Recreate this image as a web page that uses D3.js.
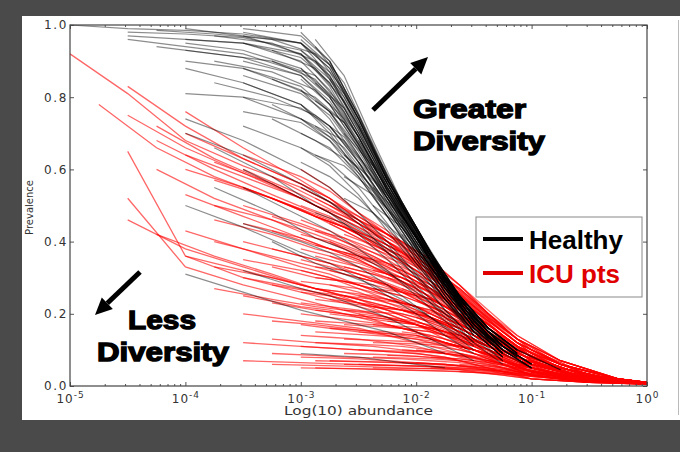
<!DOCTYPE html>
<html>
<head>
<meta charset="utf-8">
<script src="https://cdn.jsdelivr.net/npm/d3@7"></script>
<style>
  body { margin: 0; background: #4a4a4a; }
  svg { display: block; }
  .tick text { fill: #333; font-family: "DejaVu Sans", sans-serif; }
</style>
</head>
<body>
<div id="chart"></div>
<script>
// log10 abundance thresholds; the samples were read on two offset grids
const GRID_A = [-5, -4.5, -4, -3.5, -3, -2.75, -2.5, -2.25, -2, -1.75, -1.5, -1.25, -1, -0.5, 0];
const GRID_B = [-4.75, -4.25, -3.75, -3.25, -2.875, -2.625, -2.375, -2.125, -1.875, -1.625, -1.375, -1.125, -0.75, -0.25, 0];

// prevalence of each healthy sample at the GRID_A points (null = not reached)
const healthyA = [
  [1.0, 0.99, 0.985, 0.975, 0.95, 0.88, 0.74, 0.57, 0.44, 0.3, 0.19, 0.11, 0.06, null, null],
  [null, 0.98, 0.975, 0.965, 0.93, 0.86, 0.72, 0.56, 0.43, 0.29, 0.18, 0.1, 0.05, null, null],
  [null, null, 0.99, 0.97, 0.92, 0.83, 0.69, 0.54, 0.41, 0.28, 0.17, 0.1, null, null, null],
  [null, 0.96, 0.94, 0.92, 0.87, 0.8, 0.67, 0.53, 0.4, 0.27, 0.17, 0.09, null, null, null],
  [null, null, 0.96, 0.95, 0.91, 0.84, 0.71, 0.55, 0.42, 0.28, 0.17, 0.1, 0.05, null, null],
  [null, null, 0.93, 0.91, 0.86, 0.78, 0.66, 0.52, 0.39, 0.27, 0.16, 0.09, null, null, null],
  [null, null, 0.9, 0.88, 0.83, 0.76, 0.64, 0.51, 0.38, 0.26, 0.16, 0.09, null, null, null],
  [null, null, 0.81, 0.8, 0.77, 0.72, 0.62, 0.5, 0.38, 0.26, 0.16, null, null, null, null],
  [null, null, null, 0.76, 0.73, 0.68, 0.6, 0.49, 0.37, 0.25, 0.15, 0.08, null, null, null],
  [null, null, null, 0.99, 0.97, 0.9, 0.75, 0.58, 0.44, 0.3, 0.19, 0.11, 0.06, null, null],
  [null, null, null, 0.98, 0.95, 0.88, 0.74, 0.57, 0.43, 0.29, 0.18, 0.1, null, null, null],
  [null, null, null, 0.95, 0.92, 0.85, 0.72, 0.56, 0.42, 0.29, 0.18, 0.1, null, null, null],
  [null, null, null, null, 0.96, 0.89, 0.74, 0.57, 0.43, 0.29, 0.18, 0.1, 0.05, null, null],
  [null, null, null, null, 0.95, 0.86, 0.71, 0.55, 0.42, 0.28, 0.17, 0.1, null, null, null],
  [null, null, null, 0.9, 0.86, 0.79, 0.67, 0.53, 0.4, 0.27, 0.17, 0.09, null, null, null],
  [null, null, null, 0.86, 0.81, 0.75, 0.64, 0.51, 0.39, 0.26, 0.16, null, null, null, null],
  [null, null, 0.88, 0.84, 0.78, 0.71, 0.6, 0.48, 0.36, 0.25, 0.15, 0.08, null, null, null],
  [null, null, null, 0.84, 0.78, 0.7, 0.59, 0.47, 0.35, 0.24, 0.14, null, null, null, null],
  [null, null, null, 0.8, 0.74, 0.68, 0.58, 0.47, 0.35, 0.24, 0.15, 0.08, null, null, null],
  [null, null, null, null, 0.88, 0.81, 0.69, 0.54, 0.41, 0.28, 0.17, 0.1, null, null, null],
  [null, null, null, null, 0.92, 0.84, 0.7, 0.54, 0.41, 0.28, 0.17, 0.09, 0.05, null, null],
  [null, null, null, null, 0.85, 0.78, 0.66, 0.52, 0.39, 0.27, 0.16, 0.09, null, null, null],
  [null, null, null, null, 0.82, 0.76, 0.65, 0.52, 0.39, 0.27, 0.17, null, null, null, null],
  [null, null, null, null, 0.78, 0.72, 0.62, 0.5, 0.38, 0.26, 0.16, 0.09, null, null, null],
  [null, null, null, null, 0.74, 0.69, 0.6, 0.49, 0.37, 0.25, 0.15, null, null, null, null],
  [null, null, null, null, 0.7, 0.66, 0.58, 0.47, 0.36, 0.25, 0.15, 0.08, null, null, null],
  [null, null, null, null, 0.66, 0.62, 0.55, 0.45, 0.34, 0.24, 0.14, null, null, null, null],
  [null, null, null, 0.72, 0.66, 0.61, 0.53, 0.43, 0.33, 0.23, 0.14, 0.07, null, null, null],
  [null, null, 0.74, 0.68, 0.6, 0.55, 0.48, 0.4, 0.31, 0.21, 0.13, null, null, null, null],
  [null, null, 0.7, 0.64, 0.56, 0.51, 0.45, 0.37, 0.28, 0.2, 0.12, 0.06, null, null, null],
  [null, null, null, 0.6, 0.52, 0.48, 0.42, 0.35, 0.27, 0.19, 0.12, null, null, null, null],
  [null, null, 0.31, 0.26, 0.21, 0.19, 0.17, 0.15, 0.12, 0.09, null, null, null, null, null],
  [null, null, null, 0.32, 0.27, 0.25, 0.22, 0.19, 0.15, 0.11, 0.07, null, null, null, null],
  [null, null, null, 0.45, 0.4, 0.37, 0.33, 0.28, 0.22, 0.16, 0.1, null, null, null, null],
  [null, null, null, null, 0.55, 0.51, 0.46, 0.39, 0.3, 0.21, 0.13, 0.07, null, null, null],
  [null, null, null, null, 0.93, 0.87, 0.73, 0.57, 0.44, 0.3, 0.19, 0.11, 0.06, null, null],
  [null, null, null, null, null, 0.9, 0.75, 0.58, 0.44, 0.3, 0.19, 0.11, null, null, null],
  [null, null, null, null, null, 0.85, 0.72, 0.56, 0.43, 0.29, 0.18, 0.1, null, null, null],
  [null, null, null, null, null, 0.8, 0.69, 0.55, 0.42, 0.29, 0.18, 0.1, 0.05, null, null],
  [null, null, null, null, null, 0.76, 0.66, 0.53, 0.41, 0.28, 0.17, 0.1, null, null, null],
  [null, null, null, null, null, 0.72, 0.63, 0.52, 0.4, 0.28, 0.17, null, null, null, null],
  [null, null, null, null, 0.62, 0.58, 0.52, 0.44, 0.34, 0.24, 0.15, 0.08, null, null, null],
  [null, null, null, 0.97, 0.95, 0.89, 0.74, 0.58, 0.44, 0.3, 0.19, 0.11, 0.06, null, null],
  [null, null, null, null, 0.98, 0.9, 0.75, 0.57, 0.43, 0.3, 0.19, 0.11, null, null, null],
  [null, 0.97, 0.96, 0.95, 0.9, 0.82, 0.69, 0.54, 0.41, 0.28, 0.17, 0.1, null, null, null],
  [null, null, 0.95, 0.93, 0.88, 0.8, 0.68, 0.54, 0.41, 0.28, 0.17, 0.1, 0.05, null, null],
  [null, null, null, 0.88, 0.82, 0.74, 0.62, 0.49, 0.37, 0.26, 0.16, 0.09, null, null, null],
  [null, null, null, null, null, null, 0.72, 0.57, 0.44, 0.31, 0.19, 0.11, 0.06, null, null],
  [null, null, null, null, null, null, 0.68, 0.56, 0.43, 0.3, 0.19, 0.11, null, null, null],
  [null, null, null, null, null, null, 0.62, 0.53, 0.42, 0.3, 0.19, 0.11, 0.06, null, null],
  [null, null, null, 0.55, 0.47, 0.43, 0.38, 0.32, 0.25, 0.18, 0.11, null, null, null, null],
  [null, null, 0.5, 0.44, 0.37, 0.34, 0.3, 0.25, 0.2, 0.14, 0.09, null, null, null, null],
  [null, null, null, null, 0.09, 0.085, 0.08, 0.07, 0.06, 0.05, null, null, null, null, null]
];

// prevalence of further healthy samples at the GRID_B points
const healthyB = [
  [null, 0.985, 0.975, 0.96, 0.92, 0.82, 0.66, 0.51, 0.37, 0.25, 0.16, 0.1, null, null, null],
  [null, null, 0.97, 0.95, 0.9, 0.8, 0.65, 0.5, 0.36, 0.24, 0.15, 0.09, null, null, null],
  [null, 0.94, 0.92, 0.9, 0.86, 0.77, 0.63, 0.49, 0.36, 0.24, 0.15, null, null, null, null],
  [null, null, 0.9, 0.87, 0.82, 0.74, 0.61, 0.48, 0.35, 0.23, 0.14, 0.08, null, null, null],
  [null, null, null, 0.93, 0.88, 0.79, 0.64, 0.5, 0.37, 0.25, 0.15, 0.09, null, null, null],
  [null, null, null, 0.9, 0.85, 0.76, 0.62, 0.48, 0.35, 0.24, 0.15, null, null, null, null],
  [null, null, null, 0.85, 0.8, 0.73, 0.6, 0.47, 0.35, 0.23, 0.14, 0.08, null, null, null],
  [null, null, 0.84, 0.8, 0.75, 0.69, 0.58, 0.46, 0.34, 0.23, 0.14, null, null, null, null],
  [null, null, null, 0.78, 0.72, 0.66, 0.56, 0.45, 0.33, 0.22, 0.14, 0.08, null, null, null],
  [null, null, null, 0.74, 0.68, 0.63, 0.55, 0.44, 0.33, 0.22, 0.13, null, null, null, null],
  [null, null, null, null, 0.96, 0.86, 0.68, 0.51, 0.37, 0.25, 0.16, 0.1, null, null, null],
  [null, null, null, null, 0.94, 0.84, 0.67, 0.5, 0.37, 0.25, 0.16, 0.09, null, null, null],
  [null, null, null, null, 0.9, 0.81, 0.65, 0.5, 0.36, 0.24, 0.15, 0.09, null, null, null],
  [null, null, null, null, 0.84, 0.77, 0.63, 0.49, 0.36, 0.24, 0.15, null, null, null, null],
  [null, null, null, null, 0.79, 0.73, 0.61, 0.48, 0.35, 0.24, 0.15, 0.09, null, null, null],
  [null, null, null, null, 0.72, 0.68, 0.59, 0.47, 0.35, 0.24, 0.15, null, null, null, null],
  [null, null, null, null, 0.64, 0.61, 0.54, 0.44, 0.33, 0.23, 0.14, 0.08, null, null, null],
  [null, null, null, null, null, 0.7, 0.61, 0.49, 0.37, 0.25, 0.16, 0.1, null, null, null],
  [null, null, null, null, null, 0.64, 0.57, 0.47, 0.36, 0.25, 0.16, null, null, null, null],
  [null, null, null, null, null, 0.58, 0.53, 0.45, 0.35, 0.24, 0.15, 0.09, null, null, null],
  [null, null, 0.66, 0.58, 0.5, 0.46, 0.41, 0.35, 0.28, 0.2, 0.13, null, null, null, null],
  [null, null, 0.55, 0.48, 0.41, 0.38, 0.34, 0.29, 0.23, 0.17, null, null, null, null, null],
  [null, null, null, 0.4, 0.34, 0.31, 0.28, 0.24, 0.19, 0.14, null, null, null, null, null],
  [null, null, null, null, 0.48, 0.45, 0.4, 0.34, 0.27, 0.19, 0.12, null, null, null, null],
  [null, null, null, null, null, 0.52, 0.48, 0.41, 0.33, 0.23, 0.15, 0.09, null, null, null],
  [null, null, null, null, null, null, 0.55, 0.47, 0.36, 0.25, 0.16, 0.1, 0.045, null, null],
  [null, null, null, null, null, null, 0.5, 0.44, 0.35, 0.25, 0.16, 0.1, null, null, null],
  [null, null, null, null, null, null, null, 0.46, 0.36, 0.25, 0.16, 0.1, 0.045, null, null],
  [null, null, null, null, null, null, null, 0.42, 0.34, 0.24, 0.16, 0.1, null, null, null],
  [null, null, null, null, null, null, null, null, 0.33, 0.24, 0.16, 0.1, null, null, null]
];

// prevalence of each ICU patient sample at the GRID_A points
const icuA = [
  [0.92, 0.81, 0.68, 0.61, 0.55, 0.51, 0.47, 0.42, 0.37, 0.3, 0.23, 0.16, 0.1, 0.03, 0.01],
  [null, 0.83, 0.72, 0.63, 0.56, 0.52, 0.46, 0.41, 0.36, 0.29, 0.22, 0.15, 0.09, 0.03, 0.01],
  [null, null, 0.76, 0.66, 0.57, 0.52, 0.46, 0.4, 0.34, 0.27, 0.2, 0.14, 0.08, 0.025, 0.01],
  [null, 0.65, 0.36, 0.3, 0.26, 0.24, 0.22, 0.2, 0.17, 0.14, 0.1, 0.07, 0.04, 0.01, null],
  [null, 0.52, 0.33, 0.28, 0.24, 0.22, 0.2, 0.17, 0.15, 0.12, 0.09, 0.06, 0.03, 0.01, null],
  [null, 0.46, 0.38, 0.33, 0.28, 0.26, 0.23, 0.2, 0.17, 0.13, 0.1, 0.06, 0.03, 0.01, null],
  [null, null, 0.53, 0.47, 0.41, 0.38, 0.35, 0.31, 0.27, 0.22, 0.16, 0.11, 0.06, 0.02, 0.005],
  [null, null, 0.64, 0.58, 0.52, 0.48, 0.44, 0.39, 0.34, 0.27, 0.2, 0.14, 0.08, 0.025, 0.01],
  [null, null, 0.6, 0.55, 0.49, 0.45, 0.41, 0.36, 0.31, 0.25, 0.18, 0.12, 0.07, 0.02, 0.005],
  [null, null, 0.43, 0.38, 0.33, 0.31, 0.28, 0.25, 0.21, 0.17, 0.13, 0.09, 0.05, 0.015, 0.005],
  [null, null, 0.36, 0.32, 0.28, 0.26, 0.24, 0.21, 0.18, 0.15, 0.11, 0.07, 0.04, 0.01, null],
  [null, null, null, 0.6, 0.53, 0.49, 0.45, 0.4, 0.35, 0.28, 0.21, 0.14, 0.08, 0.025, 0.01],
  [null, null, null, 0.55, 0.49, 0.46, 0.42, 0.37, 0.32, 0.26, 0.19, 0.13, 0.07, 0.02, 0.01],
  [null, null, null, 0.5, 0.45, 0.42, 0.38, 0.34, 0.29, 0.23, 0.17, 0.12, 0.07, 0.02, 0.005],
  [null, null, null, 0.45, 0.41, 0.38, 0.35, 0.31, 0.27, 0.22, 0.16, 0.11, 0.06, 0.02, 0.005],
  [null, null, null, 0.4, 0.36, 0.34, 0.31, 0.28, 0.24, 0.19, 0.14, 0.1, 0.05, 0.015, 0.005],
  [null, null, null, 0.35, 0.32, 0.3, 0.27, 0.24, 0.21, 0.17, 0.13, 0.09, 0.05, 0.015, 0.005],
  [null, null, null, 0.3, 0.27, 0.25, 0.23, 0.21, 0.18, 0.15, 0.11, 0.07, 0.04, 0.01, null],
  [null, null, null, 0.25, 0.22, 0.21, 0.19, 0.17, 0.15, 0.12, 0.09, 0.06, 0.03, 0.01, null],
  [null, null, null, 0.2, 0.18, 0.17, 0.16, 0.14, 0.12, 0.1, 0.08, 0.05, 0.03, 0.01, null],
  [null, null, null, null, 0.6, 0.55, 0.48, 0.42, 0.36, 0.29, 0.22, 0.15, 0.09, 0.03, 0.01],
  [null, null, null, null, 0.55, 0.51, 0.45, 0.4, 0.34, 0.27, 0.2, 0.14, 0.08, 0.025, 0.01],
  [null, null, null, null, 0.5, 0.47, 0.42, 0.37, 0.32, 0.26, 0.19, 0.13, 0.08, 0.025, 0.01],
  [null, null, null, null, 0.46, 0.43, 0.39, 0.35, 0.3, 0.24, 0.18, 0.12, 0.07, 0.02, 0.01],
  [null, null, null, null, 0.42, 0.4, 0.36, 0.32, 0.28, 0.23, 0.17, 0.11, 0.06, 0.02, 0.005],
  [null, null, null, null, 0.38, 0.36, 0.33, 0.3, 0.26, 0.21, 0.16, 0.11, 0.06, 0.02, 0.005],
  [null, null, null, null, 0.35, 0.33, 0.31, 0.28, 0.24, 0.2, 0.15, 0.1, 0.06, 0.02, 0.005],
  [null, null, null, null, 0.32, 0.3, 0.28, 0.25, 0.22, 0.18, 0.14, 0.09, 0.05, 0.015, 0.005],
  [null, null, null, null, 0.29, 0.28, 0.26, 0.23, 0.2, 0.17, 0.13, 0.09, 0.05, 0.015, 0.005],
  [null, null, null, null, 0.26, 0.25, 0.23, 0.21, 0.19, 0.16, 0.12, 0.08, 0.05, 0.015, 0.005],
  [null, null, null, null, 0.23, 0.22, 0.21, 0.19, 0.17, 0.14, 0.11, 0.07, 0.04, 0.01, 0.005],
  [null, null, null, null, 0.2, 0.19, 0.18, 0.17, 0.15, 0.13, 0.1, 0.07, 0.04, 0.01, null],
  [null, null, null, null, 0.17, 0.16, 0.15, 0.14, 0.13, 0.11, 0.09, 0.06, 0.03, 0.01, null],
  [null, null, null, null, 0.14, 0.135, 0.13, 0.12, 0.11, 0.09, 0.07, 0.05, 0.03, 0.01, null],
  [null, null, null, null, 0.11, 0.105, 0.1, 0.095, 0.09, 0.08, 0.06, 0.04, 0.02, 0.01, null],
  [null, null, null, null, 0.08, 0.078, 0.075, 0.07, 0.065, 0.06, 0.05, 0.035, 0.02, 0.01, null],
  [null, null, null, null, null, 0.5, 0.45, 0.4, 0.35, 0.28, 0.21, 0.14, 0.08, 0.025, 0.01],
  [null, null, null, null, null, 0.45, 0.41, 0.37, 0.32, 0.26, 0.19, 0.13, 0.08, 0.025, 0.01],
  [null, null, null, null, null, 0.4, 0.37, 0.34, 0.3, 0.24, 0.18, 0.12, 0.07, 0.02, 0.01],
  [null, null, null, null, null, 0.36, 0.34, 0.31, 0.27, 0.22, 0.17, 0.11, 0.06, 0.02, 0.01],
  [null, null, null, null, null, 0.32, 0.3, 0.28, 0.25, 0.2, 0.15, 0.1, 0.06, 0.02, 0.005],
  [null, null, null, null, null, 0.28, 0.27, 0.25, 0.22, 0.18, 0.14, 0.09, 0.05, 0.015, 0.005],
  [null, null, null, null, null, 0.24, 0.23, 0.22, 0.2, 0.17, 0.13, 0.09, 0.05, 0.015, 0.005],
  [null, null, null, null, null, 0.2, 0.19, 0.18, 0.17, 0.14, 0.11, 0.08, 0.04, 0.01, 0.005],
  [null, null, null, null, null, 0.16, 0.155, 0.15, 0.14, 0.12, 0.1, 0.07, 0.04, 0.01, 0.005],
  [null, null, null, null, null, null, 0.36, 0.33, 0.29, 0.24, 0.18, 0.12, 0.07, 0.02, 0.01],
  [null, null, null, null, null, null, 0.3, 0.28, 0.25, 0.21, 0.16, 0.11, 0.06, 0.02, 0.01],
  [null, null, null, null, null, null, 0.25, 0.24, 0.22, 0.18, 0.14, 0.1, 0.06, 0.02, 0.005],
  [null, null, null, null, null, null, 0.2, 0.19, 0.18, 0.15, 0.12, 0.08, 0.05, 0.015, 0.005],
  [null, null, null, null, null, null, 0.15, 0.145, 0.14, 0.12, 0.1, 0.07, 0.04, 0.015, 0.005],
  [null, null, null, null, null, null, 0.1, 0.098, 0.095, 0.09, 0.08, 0.06, 0.04, 0.01, 0.005],
  [null, null, null, null, null, null, null, 0.3, 0.27, 0.22, 0.17, 0.12, 0.07, 0.02, 0.01],
  [null, null, null, null, null, null, null, 0.24, 0.22, 0.19, 0.15, 0.1, 0.06, 0.02, 0.01],
  [null, null, null, null, null, null, null, 0.18, 0.17, 0.15, 0.12, 0.08, 0.05, 0.015, 0.005],
  [null, null, null, null, null, null, null, null, 0.24, 0.2, 0.15, 0.1, 0.06, 0.02, 0.01],
  [null, null, null, null, null, null, null, null, 0.19, 0.16, 0.13, 0.09, 0.05, 0.02, 0.01],
  [null, null, null, null, null, null, null, null, 0.14, 0.12, 0.1, 0.07, 0.04, 0.015, 0.005],
  [null, null, null, null, null, null, null, null, null, 0.17, 0.13, 0.09, 0.05, 0.02, 0.01],
  [null, null, null, null, null, null, null, null, null, 0.12, 0.1, 0.07, 0.04, 0.015, 0.005],
  [null, null, null, null, null, null, null, null, null, null, 0.14, 0.1, 0.06, 0.02, 0.01],
  [null, null, null, null, null, null, null, null, null, null, 0.09, 0.07, 0.04, 0.015, 0.005],
  [null, null, null, null, null, null, null, null, null, null, null, 0.07, 0.05, 0.02, 0.01],
  [null, null, 0.7, 0.63, 0.56, 0.52, 0.47, 0.42, 0.36, 0.29, 0.22, 0.15, 0.09, 0.03, 0.01],
  [null, null, null, 0.64, 0.58, 0.54, 0.48, 0.43, 0.37, 0.3, 0.23, 0.16, 0.1, 0.03, 0.01],
  [null, 0.75, 0.66, 0.59, 0.52, 0.48, 0.43, 0.38, 0.33, 0.27, 0.2, 0.14, 0.08, 0.025, 0.01],
  [null, null, null, 0.12, 0.11, 0.105, 0.1, 0.095, 0.09, 0.08, 0.06, 0.04, 0.02, 0.01, null],
  [null, null, null, 0.07, 0.065, 0.062, 0.06, 0.058, 0.055, 0.05, 0.04, 0.03, 0.02, 0.01, null],
  [null, null, null, null, 0.05, 0.049, 0.048, 0.046, 0.044, 0.042, 0.038, 0.03, 0.02, 0.01, 0.005],
  [null, null, null, null, null, 0.07, 0.068, 0.066, 0.063, 0.06, 0.052, 0.04, 0.028, 0.01, 0.005],
  [null, null, null, null, null, null, 0.06, 0.058, 0.056, 0.053, 0.048, 0.04, 0.026, 0.012, 0.005],
  [null, null, null, null, null, null, null, 0.085, 0.082, 0.075, 0.065, 0.05, 0.032, 0.012, 0.005],
  [null, null, null, null, null, null, null, null, 0.1, 0.09, 0.075, 0.058, 0.038, 0.015, 0.008],
  [null, null, null, null, null, null, null, null, 0.065, 0.06, 0.052, 0.042, 0.03, 0.012, 0.005]
];

// prevalence of further ICU samples at the GRID_B points
const icuB = [
  [0.78, 0.66, 0.58, 0.52, 0.47, 0.44, 0.4, 0.36, 0.31, 0.25, 0.18, 0.12, 0.06, 0.015, 0.01],
  [null, 0.72, 0.63, 0.56, 0.5, 0.46, 0.42, 0.38, 0.33, 0.27, 0.2, 0.13, 0.07, 0.02, 0.01],
  [null, 0.68, 0.6, 0.53, 0.48, 0.45, 0.41, 0.37, 0.32, 0.26, 0.19, 0.13, 0.06, 0.02, 0.01],
  [null, 0.6, 0.52, 0.46, 0.41, 0.38, 0.35, 0.31, 0.27, 0.22, 0.16, 0.11, 0.05, 0.015, 0.005],
  [null, 0.42, 0.36, 0.31, 0.27, 0.25, 0.23, 0.21, 0.18, 0.15, 0.11, 0.07, 0.04, 0.01, null],
  [null, null, 0.62, 0.56, 0.5, 0.47, 0.43, 0.39, 0.34, 0.28, 0.2, 0.14, 0.07, 0.02, 0.01],
  [null, null, 0.57, 0.52, 0.47, 0.44, 0.4, 0.36, 0.31, 0.25, 0.18, 0.12, 0.06, 0.02, 0.01],
  [null, null, 0.5, 0.46, 0.42, 0.39, 0.36, 0.32, 0.28, 0.23, 0.17, 0.11, 0.05, 0.015, 0.005],
  [null, null, 0.46, 0.42, 0.38, 0.36, 0.33, 0.3, 0.26, 0.21, 0.16, 0.1, 0.05, 0.015, 0.005],
  [null, null, 0.4, 0.36, 0.33, 0.31, 0.29, 0.26, 0.23, 0.19, 0.14, 0.09, 0.05, 0.015, 0.005],
  [null, null, 0.33, 0.3, 0.27, 0.26, 0.24, 0.22, 0.19, 0.16, 0.12, 0.08, 0.04, 0.01, 0.005],
  [null, null, 0.27, 0.24, 0.22, 0.21, 0.2, 0.18, 0.16, 0.13, 0.1, 0.07, 0.03, 0.01, null],
  [null, null, null, 0.58, 0.52, 0.48, 0.44, 0.4, 0.35, 0.28, 0.2, 0.13, 0.07, 0.02, 0.01],
  [null, null, null, 0.52, 0.47, 0.44, 0.41, 0.37, 0.32, 0.26, 0.19, 0.13, 0.06, 0.02, 0.01],
  [null, null, null, 0.47, 0.43, 0.4, 0.37, 0.34, 0.3, 0.24, 0.18, 0.12, 0.06, 0.02, 0.01],
  [null, null, null, 0.43, 0.39, 0.37, 0.34, 0.31, 0.27, 0.22, 0.16, 0.11, 0.05, 0.015, 0.005],
  [null, null, null, 0.38, 0.35, 0.33, 0.31, 0.28, 0.25, 0.2, 0.15, 0.1, 0.05, 0.015, 0.005],
  [null, null, null, 0.33, 0.3, 0.29, 0.27, 0.25, 0.22, 0.18, 0.14, 0.09, 0.04, 0.01, 0.005],
  [null, null, null, 0.28, 0.26, 0.25, 0.23, 0.21, 0.19, 0.16, 0.12, 0.08, 0.04, 0.01, 0.005],
  [null, null, null, 0.23, 0.21, 0.2, 0.19, 0.18, 0.16, 0.14, 0.11, 0.07, 0.04, 0.01, 0.005],
  [null, null, null, 0.18, 0.17, 0.16, 0.15, 0.14, 0.13, 0.11, 0.09, 0.06, 0.03, 0.01, null],
  [null, null, null, 0.13, 0.12, 0.115, 0.11, 0.1, 0.095, 0.085, 0.07, 0.05, 0.03, 0.01, null],
  [null, null, null, null, 0.52, 0.48, 0.44, 0.4, 0.35, 0.28, 0.21, 0.14, 0.07, 0.02, 0.01],
  [null, null, null, null, 0.47, 0.44, 0.41, 0.37, 0.33, 0.27, 0.2, 0.13, 0.07, 0.02, 0.01],
  [null, null, null, null, 0.43, 0.41, 0.38, 0.35, 0.31, 0.25, 0.19, 0.12, 0.06, 0.02, 0.01],
  [null, null, null, null, 0.39, 0.37, 0.35, 0.32, 0.28, 0.23, 0.17, 0.11, 0.06, 0.02, 0.01],
  [null, null, null, null, 0.36, 0.34, 0.32, 0.3, 0.26, 0.22, 0.16, 0.11, 0.05, 0.015, 0.005],
  [null, null, null, null, 0.33, 0.32, 0.3, 0.27, 0.24, 0.2, 0.15, 0.1, 0.05, 0.015, 0.005],
  [null, null, null, null, 0.3, 0.29, 0.27, 0.25, 0.22, 0.19, 0.14, 0.09, 0.05, 0.015, 0.005],
  [null, null, null, null, 0.27, 0.26, 0.25, 0.23, 0.21, 0.17, 0.13, 0.09, 0.04, 0.01, 0.005],
  [null, null, null, null, 0.24, 0.23, 0.22, 0.21, 0.19, 0.16, 0.12, 0.08, 0.04, 0.01, 0.005],
  [null, null, null, null, 0.21, 0.2, 0.19, 0.18, 0.17, 0.14, 0.11, 0.07, 0.04, 0.01, 0.005],
  [null, null, null, null, 0.18, 0.175, 0.17, 0.16, 0.15, 0.13, 0.1, 0.07, 0.03, 0.01, 0.005],
  [null, null, null, null, 0.15, 0.145, 0.14, 0.135, 0.125, 0.11, 0.09, 0.06, 0.03, 0.01, 0.005],
  [null, null, null, null, 0.12, 0.117, 0.114, 0.11, 0.1, 0.09, 0.07, 0.05, 0.03, 0.01, null],
  [null, null, null, null, null, 0.42, 0.39, 0.36, 0.32, 0.27, 0.2, 0.13, 0.07, 0.02, 0.01],
  [null, null, null, null, null, 0.37, 0.35, 0.33, 0.29, 0.24, 0.18, 0.12, 0.06, 0.02, 0.01],
  [null, null, null, null, null, 0.33, 0.31, 0.29, 0.26, 0.22, 0.17, 0.11, 0.06, 0.02, 0.01],
  [null, null, null, null, null, 0.29, 0.28, 0.26, 0.24, 0.2, 0.15, 0.1, 0.05, 0.015, 0.005],
  [null, null, null, null, null, 0.25, 0.24, 0.23, 0.21, 0.18, 0.14, 0.09, 0.05, 0.015, 0.005],
  [null, null, null, null, null, 0.21, 0.205, 0.2, 0.18, 0.16, 0.12, 0.08, 0.04, 0.01, 0.005],
  [null, null, null, null, null, 0.17, 0.165, 0.16, 0.15, 0.13, 0.1, 0.07, 0.04, 0.01, 0.005],
  [null, null, null, null, null, 0.13, 0.127, 0.124, 0.12, 0.11, 0.09, 0.06, 0.03, 0.01, 0.005],
  [null, null, null, null, null, null, 0.32, 0.3, 0.27, 0.23, 0.17, 0.11, 0.06, 0.02, 0.01],
  [null, null, null, null, null, null, 0.27, 0.26, 0.24, 0.2, 0.15, 0.1, 0.05, 0.015, 0.01],
  [null, null, null, null, null, null, 0.22, 0.21, 0.2, 0.17, 0.13, 0.09, 0.05, 0.015, 0.005],
  [null, null, null, null, null, null, 0.17, 0.165, 0.16, 0.14, 0.11, 0.08, 0.04, 0.01, 0.005],
  [null, null, null, null, null, null, 0.12, 0.118, 0.115, 0.11, 0.09, 0.06, 0.03, 0.01, 0.005],
  [null, null, null, null, null, null, null, 0.27, 0.24, 0.2, 0.15, 0.1, 0.05, 0.015, 0.01],
  [null, null, null, null, null, null, null, 0.21, 0.19, 0.16, 0.12, 0.08, 0.04, 0.015, 0.005],
  [null, null, null, null, null, null, null, 0.15, 0.14, 0.12, 0.1, 0.07, 0.04, 0.01, 0.005],
  [null, null, null, null, null, null, null, null, 0.21, 0.17, 0.13, 0.09, 0.05, 0.015, 0.01],
  [null, null, null, null, null, null, null, null, 0.16, 0.14, 0.11, 0.08, 0.04, 0.015, 0.005],
  [null, null, null, null, null, null, null, null, 0.11, 0.1, 0.08, 0.06, 0.03, 0.01, 0.005],
  [null, null, null, null, null, null, null, null, null, 0.14, 0.11, 0.08, 0.04, 0.015, 0.01],
  [null, null, null, null, null, null, null, null, null, 0.09, 0.075, 0.06, 0.03, 0.01, 0.005],
  [null, null, null, null, null, null, null, null, null, null, 0.12, 0.08, 0.045, 0.015, 0.01],
  [null, null, null, null, null, null, null, null, null, null, 0.07, 0.055, 0.035, 0.01, 0.005],
  [null, null, null, null, null, null, null, null, null, null, null, 0.06, 0.04, 0.015, 0.01],
  [null, null, null, 0.09, 0.085, 0.08, 0.078, 0.075, 0.07, 0.065, 0.055, 0.04, 0.025, 0.01, 0.005],
  [null, null, null, 0.06, 0.057, 0.055, 0.053, 0.05, 0.048, 0.045, 0.04, 0.03, 0.02, 0.01, null],
  [null, null, null, null, 0.07, 0.068, 0.066, 0.064, 0.06, 0.055, 0.05, 0.04, 0.025, 0.01, 0.005],
  [null, null, null, null, 0.05, 0.048, 0.046, 0.044, 0.042, 0.04, 0.035, 0.03, 0.02, 0.01, 0.005],
  [null, null, null, null, null, 0.09, 0.088, 0.085, 0.08, 0.075, 0.065, 0.05, 0.03, 0.01, 0.005],
  [null, null, null, null, null, 0.06, 0.058, 0.056, 0.054, 0.05, 0.045, 0.035, 0.02, 0.01, 0.005],
  [null, null, null, null, null, null, 0.08, 0.078, 0.075, 0.07, 0.06, 0.045, 0.03, 0.01, 0.005],
  [null, null, null, null, null, null, 0.05, 0.049, 0.048, 0.046, 0.042, 0.035, 0.025, 0.01, 0.005],
  [null, null, null, null, null, null, null, 0.1, 0.095, 0.085, 0.07, 0.055, 0.035, 0.015, 0.005],
  [null, null, null, null, null, null, null, 0.065, 0.062, 0.058, 0.05, 0.04, 0.025, 0.01, 0.005],
  [null, null, null, null, null, null, null, null, 0.08, 0.075, 0.065, 0.05, 0.03, 0.015, 0.005],
  [null, null, null, null, null, null, null, null, 0.05, 0.048, 0.044, 0.038, 0.025, 0.01, 0.005],
  [null, null, null, null, null, null, null, null, null, 0.06, 0.055, 0.045, 0.03, 0.015, 0.01],
  [null, null, null, null, null, null, null, null, null, 0.04, 0.037, 0.032, 0.022, 0.01, 0.005]
];

const xTickExps = [-5, -4, -3, -2, -1, 0];
const yTicks = [0, 0.2, 0.4, 0.6, 0.8, 1.0];
const legendItems = [
  { label: 'Healthy', color: '#000' },
  { label: 'ICU pts', color: '#e00000' }
];

const width = 680, height = 452;
const plot = { left: 70, right: 647, top: 25, bottom: 386 };

const svg = d3.select('#chart').append('svg')
  .attr('width', width)
  .attr('height', height);

// white slide panel
svg.append('rect')
  .attr('x', 22).attr('y', 16)
  .attr('width', 658).attr('height', 404)
  .attr('fill', '#fff');
svg.append('line')
  .attr('x1', 678.5).attr('x2', 678.5)
  .attr('y1', 20).attr('y2', 415)
  .attr('stroke', '#bbb');

const x = d3.scaleLog().domain([1e-5, 1]).range([plot.left, plot.right]);
const y = d3.scaleLinear().domain([0, 1]).range([plot.bottom, plot.top]);

const line = d3.line()
  .defined(d => d[1] != null)
  .x(d => x(Math.pow(10, d[0])))
  .y(d => y(d[1]));

const curves = svg.append('g');

function drawSeries(rows, grid, cls, color, opacity, w) {
  curves.selectAll('path.' + cls)
    .data(rows)
    .enter()
    .append('path')
    .attr('class', cls)
    .attr('d', d => line(d.map((v, i) => [grid[i], v])))
    .attr('fill', 'none')
    .attr('stroke', color)
    .attr('stroke-opacity', opacity)
    .attr('stroke-width', w);
}

// ICU curves underneath, healthy curves drawn over them
drawSeries(icuA, GRID_A, 'icu-a', '#ff0000', 0.6, 1.3);
drawSeries(icuB, GRID_B, 'icu-b', '#ff0000', 0.6, 1.3);
drawSeries(healthyA, GRID_A, 'healthy-a', '#000', 0.45, 1.2);
drawSeries(healthyB, GRID_B, 'healthy-b', '#000', 0.45, 1.2);

// axes, ticks pointing inward
const majors = xTickExps.map(e => Math.pow(10, e));
const minors = [];
xTickExps.slice(0, -1).forEach(e => {
  for (let m = 2; m <= 9; m++) minors.push(m * Math.pow(10, e));
});

const bottom = svg.append('g')
  .attr('transform', `translate(0,${plot.bottom})`)
  .call(d3.axisBottom(x).tickValues(majors).tickSize(-4).tickSizeOuter(0).tickPadding(8).tickFormat(''));
bottom.selectAll('.tick text')
  .attr('font-size', 12)
  .attr('letter-spacing', 1)
  .each(function (d, i) {
    const t = d3.select(this);
    t.append('tspan').text('10');
    t.append('tspan').attr('dy', '-0.45em').attr('font-size', 9).text(xTickExps[i]);
  });

svg.append('g')
  .attr('transform', `translate(0,${plot.bottom})`)
  .call(d3.axisBottom(x).tickValues(minors).tickSize(-2).tickSizeOuter(0).tickFormat(''));
svg.append('g')
  .attr('transform', `translate(0,${plot.top})`)
  .call(d3.axisTop(x).tickValues(majors).tickSize(-4).tickSizeOuter(0).tickFormat(''));
svg.append('g')
  .attr('transform', `translate(0,${plot.top})`)
  .call(d3.axisTop(x).tickValues(minors).tickSize(-2).tickSizeOuter(0).tickFormat(''));

const left = svg.append('g')
  .attr('transform', `translate(${plot.left},0)`)
  .call(d3.axisLeft(y).tickValues(yTicks).tickSize(-4).tickSizeOuter(0).tickPadding(2).tickFormat(d3.format('.1f')));
left.selectAll('.tick text')
  .attr('font-size', 12)
  .attr('letter-spacing', 1.6);

svg.append('g')
  .attr('transform', `translate(${plot.right},0)`)
  .call(d3.axisRight(y).tickValues(yTicks).tickSize(-4).tickSizeOuter(0).tickFormat(''));

svg.selectAll('.domain').remove();
svg.selectAll('.tick line').attr('stroke', '#555');

svg.append('rect')
  .attr('x', plot.left).attr('y', plot.top)
  .attr('width', plot.right - plot.left)
  .attr('height', plot.bottom - plot.top)
  .attr('fill', 'none')
  .attr('stroke', '#444')
  .attr('stroke-width', 1.2);

// axis titles
svg.append('text')
  .attr('x', (plot.left + plot.right) / 2)
  .attr('y', 415)
  .attr('text-anchor', 'middle')
  .attr('font-family', 'DejaVu Sans, sans-serif')
  .attr('font-size', 12)
  .attr('fill', '#333')
  .attr('textLength', 149)
  .attr('lengthAdjust', 'spacingAndGlyphs')
  .text('Log(10) abundance');

svg.append('text')
  .attr('transform', `translate(33,${(plot.top + plot.bottom) / 2 + 2}) rotate(-90)`)
  .attr('text-anchor', 'middle')
  .attr('font-family', 'DejaVu Sans, sans-serif')
  .attr('font-size', 10)
  .attr('fill', '#333')
  .text('Prevalence');

// legend
const legend = svg.append('g').attr('transform', 'translate(476,217)');
legend.append('rect')
  .attr('width', 166).attr('height', 80)
  .attr('fill', '#fff')
  .attr('stroke', '#888')
  .attr('stroke-width', 1);
legend.selectAll('g.item')
  .data(legendItems)
  .enter()
  .append('g')
  .attr('class', 'item')
  .attr('transform', (d, i) => `translate(0,${22 + i * 34})`)
  .each(function (d) {
    const g = d3.select(this);
    g.append('line')
      .attr('x1', 7).attr('x2', 47)
      .attr('stroke', d.color)
      .attr('stroke-width', 4);
    g.append('text')
      .attr('x', 53).attr('y', 10)
      .attr('font-family', 'Liberation Sans, Arial, sans-serif')
      .attr('font-weight', 'bold')
      .attr('font-size', 26)
      .attr('fill', d.color)
      .text(d.label);
  });

// annotations
function heavyText(txt, tx, ty, len) {
  svg.append('text')
    .attr('x', tx).attr('y', ty)
    .attr('font-family', 'Liberation Sans, Arial, sans-serif')
    .attr('font-weight', 'bold')
    .attr('font-size', 26)
    .attr('fill', '#000')
    .attr('stroke', '#000')
    .attr('stroke-width', 1.3)
    .attr('textLength', len)
    .attr('lengthAdjust', 'spacingAndGlyphs')
    .text(txt);
}
heavyText('Greater', 413, 118, 113);
heavyText('Diversity', 413, 150, 132);
heavyText('Less', 128, 329, 68);
heavyText('Diversity', 97, 361, 132);

function arrow(x1, y1, x2, y2) {
  const a = Math.atan2(y2 - y1, x2 - x1);
  const headLen = 17, headW = 8;
  const bx = x2 - headLen * Math.cos(a), by = y2 - headLen * Math.sin(a);
  svg.append('line')
    .attr('x1', x1).attr('y1', y1)
    .attr('x2', bx).attr('y2', by)
    .attr('stroke', '#000')
    .attr('stroke-width', 5);
  const px = -Math.sin(a) * headW, py = Math.cos(a) * headW;
  svg.append('path')
    .attr('d', `M${x2},${y2}L${bx + px},${by + py}L${bx - px},${by - py}Z`)
    .attr('fill', '#000');
}
arrow(373, 110, 428, 57);
arrow(140, 272, 95, 315);
</script>
</body>
</html>
